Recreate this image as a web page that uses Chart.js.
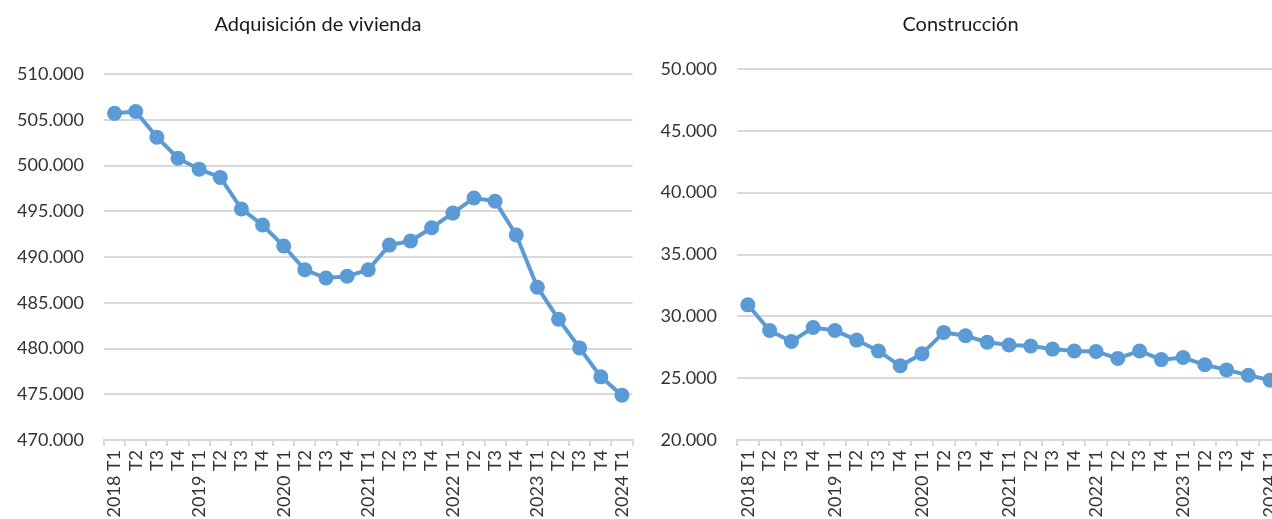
<!DOCTYPE html>
<html>
<head>
<meta charset="utf-8">
<script src="https://cdn.jsdelivr.net/npm/chart.js@4/dist/chart.umd.min.js"></script>
<style>
  body { margin: 0; background: #fff; overflow: hidden; width: 1272px; height: 519px; }
  canvas { position: absolute; top: 0; }
  #leftChart { left: 0; }
  #rightChart { left: 640px; }
</style>
</head>
<body>
<canvas id="leftChart" width="640" height="540"></canvas>
<canvas id="rightChart" width="660" height="540"></canvas>
<script>
let quarters = ['2018 T1','T2','T3','T4','2019 T1','T2','T3','T4','2020 T1','T2','T3','T4',
  '2021 T1','T2','T3','T4','2022 T1','T2','T3','T4','2023 T1','T2','T3','T4','2024 T1'];

let vivienda = [505700, 505900, 503100, 500800, 499600, 498700, 495250, 493500, 491200, 488600,
  487700, 487900, 488600, 491300, 491750, 493200, 494800, 496450, 496100, 492400,
  486700, 483200, 480050, 476900, 474900];

let construccion = [30930, 28850, 27970, 29100, 28850, 28080, 27200, 26000, 26970, 28700,
  28430, 27900, 27680, 27600, 27350, 27200, 27160, 26600, 27200, 26500,
  26670, 26080, 25670, 25240, 24840];

const blue = '#5b9bd5';
const gridColor = '#d9d9d9';
const fontFamily = 'Lato, "Open Sans", sans-serif';

function fmt(v) {
  return v.toLocaleString('de-DE', {minimumFractionDigits: 0}).replace(',', '.');
}

function makeChart(id, title, values, yMin, yMax, axisWidth, titleBottom, rightPad) {
  return new Chart(document.getElementById(id), {
    type: 'line',
    data: {
      labels: quarters,
      datasets: [{
        data: values,
        borderColor: blue,
        backgroundColor: blue,
        borderWidth: 4,
        pointRadius: 7.5,
        pointHoverRadius: 7.5,
        pointBackgroundColor: blue,
        pointBorderWidth: 0,
        tension: 0
      }]
    },
    options: {
      responsive: false,
      animation: false,
      layout: { padding: { left: 0, right: rightPad, top: 0, bottom: 0 } },
      plugins: {
        legend: { display: false },
        tooltip: { enabled: false },
        title: {
          display: true,
          text: title,
          color: '#1a1a1a',
          font: { family: fontFamily, size: 20, weight: 'normal' },
          padding: { top: 13, bottom: titleBottom }
        }
      },
      scales: {
        x: {
          offset: true,
          grid: {
            offset: true,
            drawOnChartArea: false,
            drawTicks: true,
            tickLength: 6,
            color: gridColor,
            lineWidth: 2
          },
          border: { display: true, color: gridColor, width: 2 },
          ticks: {
            autoSkip: false,
            maxRotation: 90,
            minRotation: 90,
            padding: 4,
            color: '#333',
            font: { family: fontFamily, size: 18 }
          },
          afterFit: function(scale) {
            scale.height = 100;
            // rotated labels ask for extra room on the right; the reference has none
            scale.paddingRight = 0;
            scale.paddingLeft = 0;
          }
        },
        y: {
          min: yMin,
          max: yMax,
          grid: { color: gridColor, lineWidth: 2, drawTicks: false },
          border: { display: false },
          ticks: {
            stepSize: 5000,
            padding: 20,
            color: '#333',
            font: { family: fontFamily, size: 18 },
            callback: function(v) { return fmt(v); }
          },
          afterFit: function(scale) { scale.width = axisWidth; }
        }
      }
    }
  });
}

makeChart('leftChart', 'Adquisición de vivienda', vivienda, 470000, 510000, 104, 37, 4);
makeChart('rightChart', 'Construcción', construccion, 20000, 50000, 97, 32, 19);
</script>
</body>
</html>
